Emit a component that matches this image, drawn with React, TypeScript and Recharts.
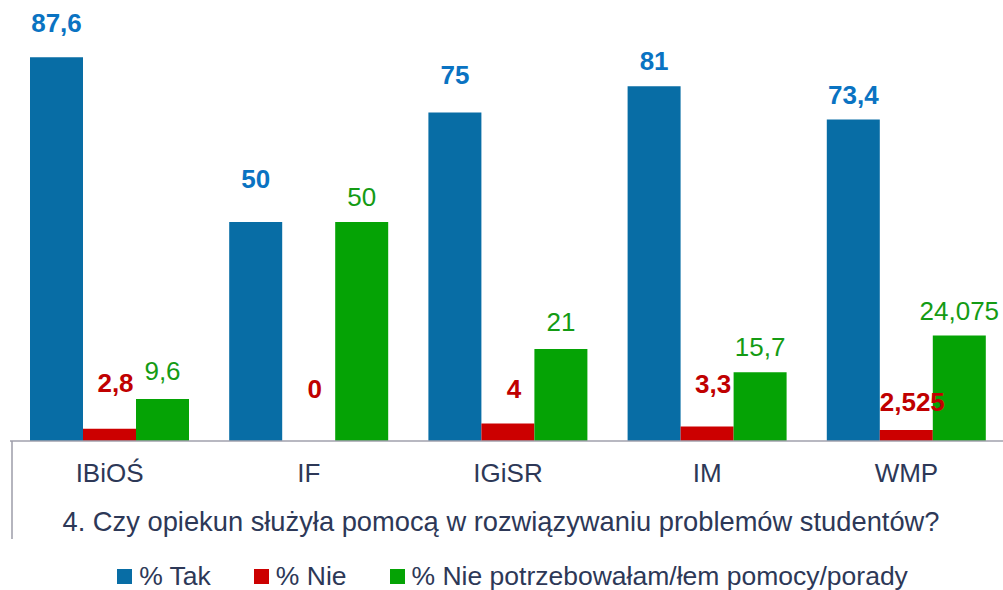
import { Bar, BarChart, LabelList, Legend, XAxis, YAxis } from 'recharts';

const categories = ['IBiOŚ', 'IF', 'IGiSR', 'IM', 'WMP'];
const tak = [87.6, 50, 75, 81, 73.4];
const nie = [2.8, 0, 4, 3.3, 2.525];
const niePotrzebowalam = [9.6, 50, 21, 15.7, 24.075];

const seriesNames = ['% Tak', '% Nie', '% Nie potrzebowałam/łem pomocy/porady'];
const axisTitle = '4. Czy opiekun służyła pomocą w rozwiązywaniu problemów studentów?';

// label placement (hand-dragged in the original): px above bar top, red ones px above the baseline
const takLift = [34, 43, 38, 25, 25];
const nieLift = [58, 52, 57, 39, 36];
const brakLift = [28, 25, 27, 25, 25];

const FONT = '"Liberation Sans", Arial, sans-serif';
const TEXT = '#2D3857';
const RED_LABEL = '#C00000';

const rows = categories.map((name, i) => ({
  name,
  tak: tak[i],
  nie: nie[i],
  brak: niePotrzebowalam[i],
}));

const fmt = (v: any) => String(v).replace('.', ',');

function numText(x: number, y: number, color: string, bold: boolean, value: any) {
  return (
    <text
      x={x}
      y={y}
      textAnchor="middle"
      dominantBaseline="central"
      fill={color}
      fontSize={26}
      fontWeight={bold ? 700 : 400}
      fontFamily={FONT}
    >
      {fmt(value)}
    </text>
  );
}

const takLabel = (p: any) =>
  numText(Number(p.x) + Number(p.width) / 2, Number(p.y) - takLift[p.index], '#0A73C2', true, p.value);

const nieLabel = (p: any) => {
  const base = Number(p.y) + Number(p.height);
  return numText(Number(p.x) + Number(p.width) / 2 + 6, base - nieLift[p.index], RED_LABEL, true, p.value);
};

// the green bar also carries the red label when the red bar has zero height (not labelled otherwise)
const brakLabel = (p: any) => {
  const x = Number(p.x);
  const w = Number(p.width);
  const base = Number(p.y) + Number(p.height);
  return (
    <g>
      {numText(x + w / 2, Number(p.y) - brakLift[p.index], '#149B14', false, p.value)}
      {nie[p.index] === 0 && numText(x - w / 2 + 6, base - nieLift[p.index], RED_LABEL, true, nie[p.index])}
    </g>
  );
};

function AxisTitle(props: any) {
  const vb = props.viewBox ?? { x: 10, y: 441, width: 996, height: 100 };
  return (
    <g>
      <line x1={vb.x + 2} x2={vb.x + 2} y1={vb.y} y2={vb.y + 98} stroke="#9C9CA8" strokeWidth={1.5} />
      <text
        x={501}
        y={vb.y + 90}
        textAnchor="middle"
        fill={TEXT}
        fontSize={27.3}
        fontFamily={FONT}
      >
        {axisTitle}
      </text>
    </g>
  );
}

function LegendRow(props: any) {
  const items = [...(props.payload ?? [])].sort(
    (a: any, b: any) => seriesNames.indexOf(a.value) - seriesNames.indexOf(b.value)
  );
  return (
    <div
      style={{
        display: 'flex',
        justifyContent: 'center',
        alignItems: 'center',
        gap: 43,
        paddingLeft: 22,
        fontFamily: FONT,
        fontSize: 26.5,
        lineHeight: 1,
        color: TEXT,
        whiteSpace: 'nowrap',
      }}
    >
      {items.map((it: any) => (
        <div key={it.value} style={{ display: 'flex', alignItems: 'center' }}>
          <span style={{ width: 15, height: 15, background: it.color, marginRight: 7, display: 'inline-block' }} />
          <span>{it.value}</span>
        </div>
      ))}
    </div>
  );
}

export default function App() {
  return (
    <div
      style={{
        position: 'absolute',
        left: 0,
        top: 0,
        width: 1003,
        height: 590,
        overflow: 'hidden',
        background: '#fff',
      }}
    >
      <BarChart
        width={1009}
        height={590}
        data={rows}
        margin={{ top: 3, right: 3, left: 10, bottom: 49 }}
        barGap={0}
        barSize={53}
      >
        <XAxis
          dataKey="name"
          height={100}
          tickLine={false}
          tickMargin={17}
          axisLine={{ stroke: '#A0A0AC', strokeWidth: 1.5 }}
          tick={{ fontSize: 26, fill: TEXT, fontFamily: FONT }}
          interval={0}
          label={<AxisTitle />}
        />
        <YAxis hide domain={[0, 100]} />
        <Legend
          verticalAlign="middle"
          align="center"
          layout="horizontal"
          wrapperStyle={{ top: 563, left: 0, width: 1003 }}
          content={<LegendRow />}
        />
        <Bar dataKey="tak" name={seriesNames[0]} fill="#086DA5" isAnimationActive={false}>
          <LabelList dataKey="tak" content={takLabel} />
        </Bar>
        <Bar dataKey="nie" name={seriesNames[1]} fill="#CC0000" isAnimationActive={false}>
          <LabelList dataKey="nie" content={nieLabel} />
        </Bar>
        <Bar dataKey="brak" name={seriesNames[2]} fill="#05A305" isAnimationActive={false}>
          <LabelList dataKey="brak" content={brakLabel} />
        </Bar>
      </BarChart>
    </div>
  );
}
